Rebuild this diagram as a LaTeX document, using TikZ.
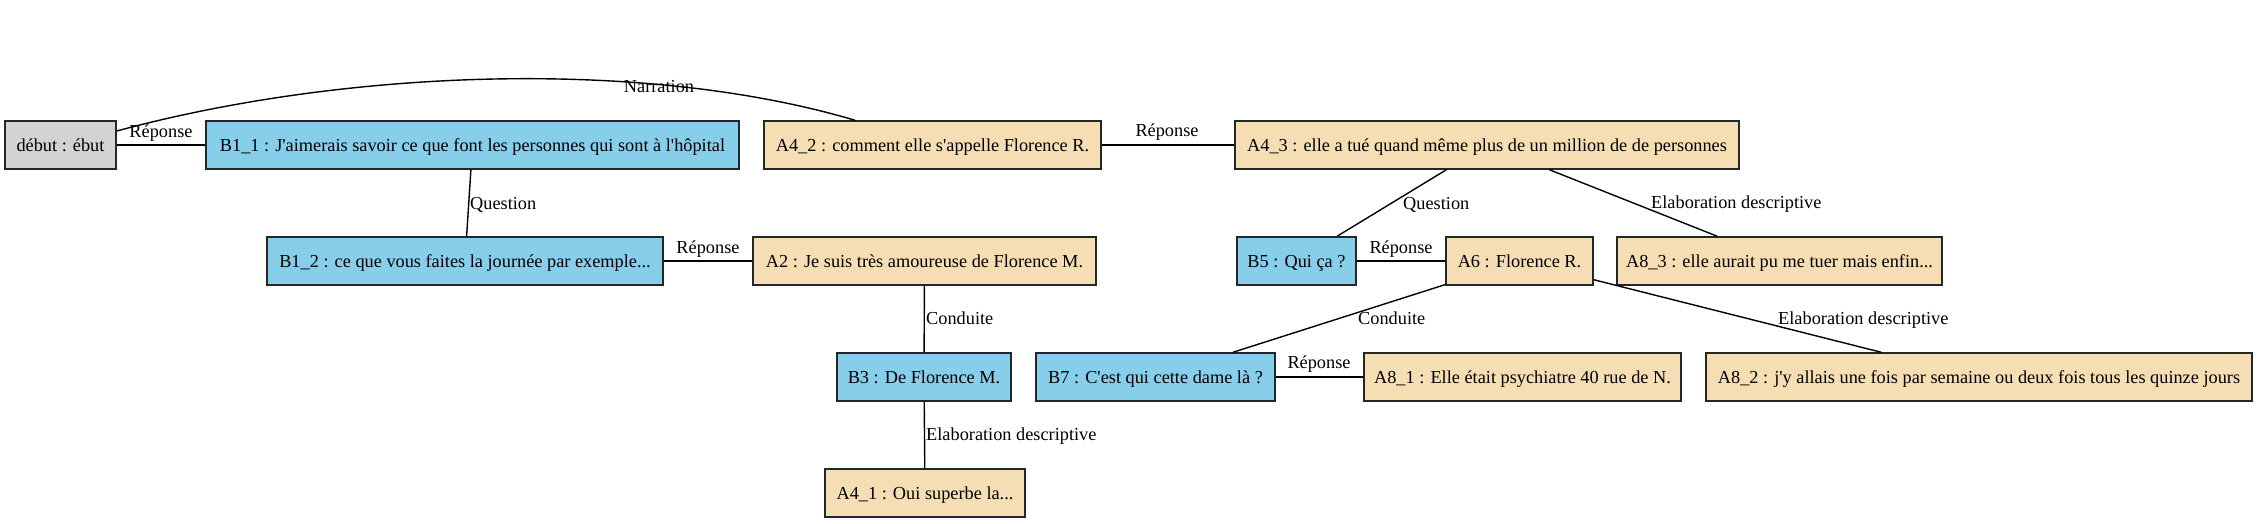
\documentclass[tikz,border=0pt]{standalone}
\usepackage{fontspec}
\setmainfont{Liberation Serif}[Ligatures=TeXOff]
\begin{document}
\begin{tikzpicture}[x=1pt,y=-1pt,
  box/.style={draw=black!85,line width=1.5pt,inner sep=0pt,minimum height=48pt,text height=12.3pt,text depth=0pt,font=\fontsize{18.3}{21}\selectfont},
  bbox/.style={box,fill=bluebox},
  tbox/.style={box,fill=wheatbox},
  gbox/.style={box,fill=graybox},
  lbl/.style={inner sep=0pt,text height=12.3pt,text depth=0pt,font=\fontsize{18.3}{21}\selectfont},
  edge/.style={draw=black,line width=1.4pt}]
\definecolor{bluebox}{RGB}{135,206,235}
\definecolor{wheatbox}{RGB}{245,222,179}
\definecolor{graybox}{RGB}{211,211,211}
\useasboundingbox (0,0) rectangle (2258,523);
% nodes
\node[gbox,minimum width=111pt] (debut) at (60.5,145) {début : ébut};
\node[bbox,minimum width=533pt] (B11) at (472.5,145) {B1\_1 : J'aimerais savoir ce que font les personnes qui sont à l'hôpital};
\node[tbox,minimum width=337pt] (A42) at (932.5,145) {A4\_2 : comment elle s'appelle Florence R.};
\node[tbox,minimum width=504pt] (A43) at (1487,145) {A4\_3 : elle a tué quand même plus de un million de de personnes};
\node[bbox,minimum width=396pt] (B12) at (465,261) {B1\_2 : ce que vous faites la journée par exemple...};
\node[tbox,minimum width=343pt] (A2) at (924.5,261) {A2 : Je suis très amoureuse de Florence M.};
\node[bbox,minimum width=119pt] (B5) at (1296.5,261) {B5 : Qui ça ?};
\node[tbox,minimum width=147pt] (A6) at (1519.5,261) {A6 : Florence R.};
\node[tbox,minimum width=325pt] (A83) at (1779.5,261) {A8\_3 : elle aurait pu me tuer mais enfin...};
\node[bbox,minimum width=174pt] (B3) at (924,377) {B3 : De Florence M.};
\node[bbox,minimum width=239pt] (B7) at (1155.5,377) {B7 : C'est qui cette dame là ?};
\node[tbox,minimum width=317pt] (A81) at (1522.5,377) {A8\_1 : Elle était psychiatre 40 rue de N.};
\node[tbox,minimum width=546pt] (A82) at (1979,377) {A8\_2 : j'y allais une fois par semaine ou deux fois tous les quinze jours};
\node[tbox,minimum width=200pt] (A41) at (925,493) {A4\_1 : Oui superbe la...};
% edges
\draw[edge] (debut) -- (B11);
\draw[edge] ([yshift=14pt]debut.east) .. controls (346,69) and (645,58) .. ([xshift=-77.5pt]A42.north);
\draw[edge] (B11) -- (B12);
\draw[edge] (B12) -- (A2);
\draw[edge] (A42) -- (A43);
\draw[edge] (A2) -- (B3);
\draw[edge] (B3) -- (A41);
\draw[edge] (A43) -- (B5);
\draw[edge] (A43) -- (A83);
\draw[edge] (B5) -- (A6);
\draw[edge] (A6) -- (B7);
\draw[edge] (A6) -- (A82);
\draw[edge] (B7) -- (A81);
% labels
\node[lbl] (l1) at (161,131) {Réponse};
\node[lbl] (l2) at (659,86) {Narration};
\node[lbl,anchor=west] (l3) at (470,203) {Question};
\node[lbl] (l4) at (708,247) {Réponse};
\node[lbl] (l5) at (1167,130) {Réponse};
\node[lbl,anchor=west] (l6) at (926,318) {Conduite};
\node[lbl,anchor=west] (l7) at (926,434) {Elaboration descriptive};
\node[lbl,anchor=west] (l8) at (1403,203) {Question};
\node[lbl,anchor=west] (l9) at (1651,202) {Elaboration descriptive};
\node[lbl] (l10) at (1401,247) {Réponse};
\node[lbl,anchor=west] (l11) at (1358,318) {Conduite};
\node[lbl,anchor=west] (l12) at (1778,318) {Elaboration descriptive};
\node[lbl] (l13) at (1319,362) {Réponse};
\end{tikzpicture}
\end{document}
